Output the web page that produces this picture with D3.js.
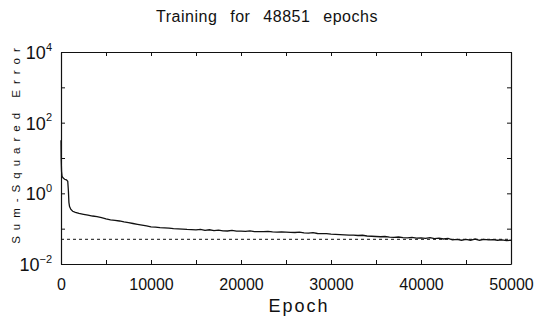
<!DOCTYPE html>
<html><head><meta charset="utf-8">
<script src="https://cdn.jsdelivr.net/npm/d3@7"></script>
<style>body{margin:0;background:#fff}svg{display:block}text{font-family:"Liberation Sans",Arial,sans-serif;fill:#111}</style>
</head><body><svg id="c" width="544" height="320"></svg>
<script>
const titleText = "Training for 48851 epochs";
const xLabel = "Epoch";
const yLabel = "Sum-Squared Error";
const goal = 0.05;
const xTicks = [0,5000,10000,15000,20000,25000,30000,35000,40000,45000,50000];
const xTickLabels = [0,10000,20000,30000,40000,50000];
const yTicks = [1e-2,1e-1,1e0,1e1,1e2,1e3,1e4];
const yTickLabelExps = [-2,0,2,4];
const epochs = [0,20,60,120,250,400,600,750,820,880,950,1100,1300,1600,2000,
 2500,3000,3500,4000,4500,5000,5500,6000,6500,7000,7500,8000,8500,9000,9500,10000,
 10500,11000,11500,12000,12500,13000,13500,14000,14500,15000,15500,16000,16500,17000,17500,18000,18500,19000,19500,20000,
 20500,21000,21500,22000,22500,23000,23500,24000,24500,25000,25500,26000,26500,27000,27500,28000,28500,29000,29500,30000,
 30500,31000,31500,32000,32500,33000,33500,34000,34500,35000,35500,36000,36500,37000,37500,38000,38500,39000,39500,40000,
 40500,41000,41500,42000,42500,43000,43500,44000,44500,45000,45500,46000,46500,47000,47500,48000,48500,49000,49500,50000];
const errors = [32,9,4.2,3.0,2.7,2.5,2.4,2.2,1.2,0.55,0.42,0.35,0.31,0.29,0.27,
 0.255,0.242,0.228,0.22,0.206,0.19,0.178,0.172,0.165,0.155,0.148,0.14,0.133,0.126,0.12,0.113,
 0.11,0.107,0.105,0.103,0.1,0.099,0.097,0.095,0.094,0.092,0.096,0.089,0.093,0.088,0.091,0.087,0.086,0.089,0.085,0.085,
 0.084,0.087,0.083,0.083,0.082,0.084,0.081,0.08,0.081,0.08,0.079,0.078,0.08,0.076,0.075,0.077,0.073,0.072,0.072,0.07,
 0.069,0.068,0.067,0.066,0.066,0.064,0.065,0.062,0.061,0.06,0.059,0.06,0.058,0.057,0.058,0.056,0.055,0.057,0.054,0.055,
 0.053,0.056,0.052,0.054,0.051,0.053,0.048,0.05,0.047,0.05,0.047,0.051,0.047,0.05,0.048,0.049,0.047,0.048,0.046,0.047];

const svg = d3.select("#c");
const L=61,R=511,T=52,B=264;
const x = d3.scaleLinear().domain([0,50000]).range([L,R]);
const y = d3.scaleLog().domain([1e-2,1e4]).range([B,T]);

// axes
const fmtX = d => xTickLabels.includes(d) ? String(d) : "";
const gB = svg.append("g").attr("transform",`translate(0,${B})`)
  .call(d3.axisBottom(x).tickValues(xTicks).tickSizeInner(-4).tickSizeOuter(0).tickPadding(15).tickFormat(fmtX));
const gT = svg.append("g").attr("transform",`translate(0,${T})`)
  .call(d3.axisTop(x).tickValues(xTicks).tickSizeInner(-4).tickSizeOuter(0).tickFormat(""));
const gL = svg.append("g").attr("transform",`translate(${L},0)`)
  .call(d3.axisLeft(y).tickValues(yTicks).tickSizeInner(-4).tickSizeOuter(0).tickFormat(""));
const gR = svg.append("g").attr("transform",`translate(${R},0)`)
  .call(d3.axisRight(y).tickValues(yTicks).tickSizeInner(-4).tickSizeOuter(0).tickFormat(""));
[gB,gT,gL,gR].forEach(g=>{
  g.select(".domain").attr("stroke","#111").attr("stroke-width",1.2);
  g.selectAll(".tick line").attr("stroke","#111");
});
gB.selectAll(".tick text").attr("font-size",16).attr("font-family","Liberation Sans, Arial, sans-serif").attr("fill","#111");

// y tick labels 10^n
gL.selectAll(".tick").each(function(d){
  const e = Math.round(Math.log10(d));
  if(!yTickLabelExps.includes(e)) return;
  const t = d3.select(this).append("text").attr("x",-9).attr("dy","0.36em")
    .attr("text-anchor","end").attr("font-size",18).attr("fill","#111");
  t.append("tspan").text("10");
  t.append("tspan").attr("font-size",11).attr("dy","-0.75em").text(String(e).replace("-","\u2212"));
});

// goal line
svg.append("line").attr("x1",x(0)).attr("x2",x(50000)).attr("y1",y(goal)).attr("y2",y(goal))
  .attr("stroke","#111").attr("stroke-width",1).attr("stroke-dasharray","3,3");

// curve
const line = d3.line().x((d,i)=>x(epochs[i])).y(d=>y(d));
svg.append("path").datum(errors).attr("d",line).attr("fill","none").attr("stroke","#111").attr("stroke-width",1.3);

// labels
svg.append("text").attr("x",267).attr("y",22).attr("text-anchor","middle").attr("font-size",16)
  .attr("letter-spacing","0.5px").attr("word-spacing","8px").text(titleText);
svg.append("text").attr("x",299).attr("y",312).attr("text-anchor","middle").attr("font-size",18)
  .attr("letter-spacing","2px").text(xLabel);
svg.append("text").attr("transform","translate(20,143) rotate(-90)").attr("text-anchor","middle")
  .attr("font-size",11.5).attr("letter-spacing","6px").text(yLabel);
</script></body></html>
